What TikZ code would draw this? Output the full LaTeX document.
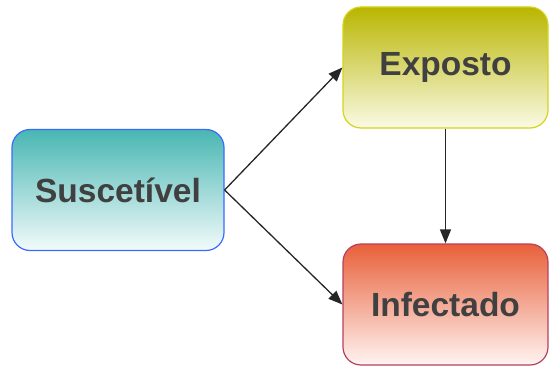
\documentclass[tikz,border=0pt]{standalone}
\usepackage{fontspec}
\setmainfont{Liberation Sans}
\usepackage{xcolor}
\usepackage{tikz}
\usetikzlibrary{arrows.meta, positioning, calc}

\definecolor{textgray}{HTML}{404040}
\definecolor{suscTop}{HTML}{48B6B2}
\definecolor{suscBot}{HTML}{F2FBFB}
\definecolor{suscLine}{HTML}{3A6BFF}
\definecolor{expTop}{HTML}{B9B600}
\definecolor{expBot}{HTML}{FAFAE6}
\definecolor{expLine}{HTML}{D6D31A}
\definecolor{infTop}{HTML}{E8603A}
\definecolor{infBot}{HTML}{FFF4F2}
\definecolor{infLine}{HTML}{B8405E}

\tikzset{
  estado/.style={rectangle, rounded corners=18pt, line width=1.2pt,
    minimum height=121pt, inner sep=0pt, text=textgray,
    font=\fontsize{33.5}{36}\selectfont\bfseries},
  seta/.style={-{Triangle[length=14pt,width=11pt]}, line width=1.3pt, black!85}
}

\begin{document}
\begin{tikzpicture}
        \useasboundingbox (0,0) rectangle (549pt,365pt);

        % Estados
        \node[estado, minimum width=212pt, draw=suscLine, top color=suscTop, bottom color=suscBot]
            (susc) at (118pt,175pt) {Suscetível};
        \node[estado, minimum width=205pt, draw=expLine, top color=expTop, bottom color=expBot]
            (expo) at (445.5pt,297.5pt) {Exposto};
        \node[estado, minimum width=205pt, draw=infLine, top color=infTop, bottom color=infBot]
            (infe) at (445.5pt,60.5pt) {Infectado};

        % Transições
        \draw[seta] (susc.east) -- (expo.west);
        \draw[seta] (susc.east) -- (infe.west);
        \draw[seta] (expo.south) -- (infe.north);
    \end{tikzpicture}
\end{document}
